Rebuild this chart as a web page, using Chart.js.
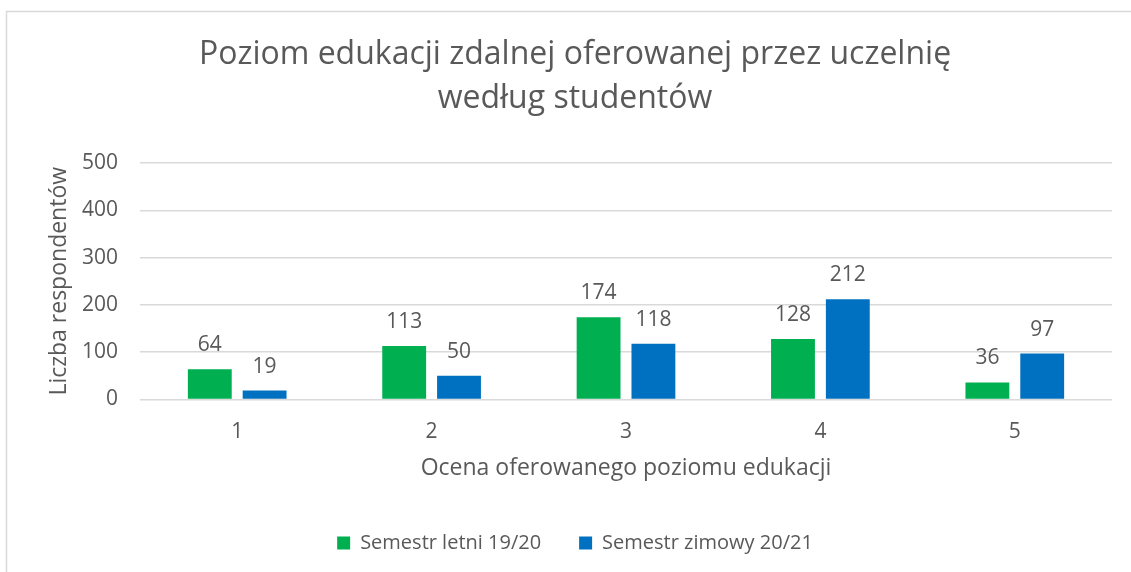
<!DOCTYPE html>
<html>
<head>
<meta charset="utf-8">
<script src="https://cdn.jsdelivr.net/npm/chart.js@4"></script>
<style>
  html, body { margin: 0; padding: 0; background: #fff; overflow: hidden; }
  #wrap { position: absolute; left: 0; top: 0; width: 1131px; height: 600px; }
</style>
</head>
<body>
<div id="wrap"><canvas id="chart" width="1131" height="600"></canvas></div>
<script>
// data
const categories = ['1', '2', '3', '4', '5'];
const summer1920 = [64, 113, 174, 128, 36];
const winter2021 = [19, 50, 118, 212, 97];
const seriesNames = ['Semestr letni 19/20', 'Semestr zimowy 20/21'];
const yTicks = [0, 100, 200, 300, 400, 500];

const textColor = '#595959';
const gridColor = '#d9d9d9';
const fontFamily = '"Open Sans", sans-serif';

// frame around the whole chart (only top and left edge are visible)
const framePlugin = {
  id: 'frame',
  beforeDraw(chart) {
    const ctx = chart.ctx;
    ctx.save();
    ctx.fillStyle = '#fff';
    ctx.fillRect(0, 0, chart.width, chart.height);
    ctx.strokeStyle = gridColor;
    ctx.lineWidth = 1.5;
    ctx.strokeRect(6.5, 11.5, 1140, 700);
    ctx.restore();
  }
};

// value labels above each bar
const barLabels = {
  id: 'barLabels',
  afterDatasetsDraw(chart) {
    const ctx = chart.ctx;
    ctx.save();
    ctx.font = '21px ' + fontFamily;
    ctx.fillStyle = textColor;
    ctx.textAlign = 'center';
    ctx.textBaseline = 'alphabetic';
    chart.data.datasets.forEach((ds, i) => {
      chart.getDatasetMeta(i).data.forEach((bar, j) => {
        ctx.fillText(String(ds.data[j]), bar.x, bar.y - 18);
      });
    });
    ctx.restore();
  }
};

new Chart(document.getElementById('chart'), {
  type: 'bar',
  data: {
    labels: categories,
    datasets: [
      { label: seriesNames[0], data: summer1920, backgroundColor: '#00B050' },
      { label: seriesNames[1], data: winter2021, backgroundColor: '#0070C0' }
    ]
  },
  options: {
    responsive: false,
    animation: false,
    categoryPercentage: 0.564,
    barPercentage: 0.8,
    layout: { padding: { left: 38, right: 19, top: 0, bottom: 37 } },
    scales: {
      x: {
        grid: { display: false },
        border: { display: false },
        ticks: { color: textColor, font: { family: fontFamily, size: 21 }, padding: 12 },
        title: {
          display: true,
          text: 'Ocena oferowanego poziomu edukacji',
          color: textColor,
          font: { family: fontFamily, size: 23 },
          padding: { top: 0, bottom: 13 }
        },
        afterFit(scale) { scale.height = 95.5; }
      },
      y: {
        min: 0,
        max: 500,
        afterBuildTicks(scale) { scale.ticks = yTicks.map(v => ({ value: v })); },
        grid: { color: gridColor, lineWidth: 1.5, drawTicks: false },
        border: { display: false },
        ticks: { color: textColor, font: { family: fontFamily, size: 21 }, padding: 22 },
        title: {
          display: true,
          text: 'Liczba respondentów',
          color: textColor,
          font: { family: fontFamily, size: 23 },
          padding: { top: 8, bottom: 0 }
        },
        afterFit(scale) { scale.width = 102; }
      }
    },
    plugins: {
      title: {
        display: true,
        text: ['Poziom edukacji zdalnej oferowanej przez uczelnię', 'według studentów'],
        color: textColor,
        font: { family: fontFamily, size: 32, weight: 'normal', lineHeight: 1.4 },
        padding: { top: 32, bottom: 41.4 }
      },
      legend: {
        position: 'bottom',
        labels: {
          color: textColor,
          font: { family: fontFamily, size: 20 },
          boxWidth: 13,
          boxHeight: 13,
          padding: 38
        }
      },
      tooltip: { enabled: false }
    }
  },
  plugins: [framePlugin, barLabels]
});
</script>
</body>
</html>
